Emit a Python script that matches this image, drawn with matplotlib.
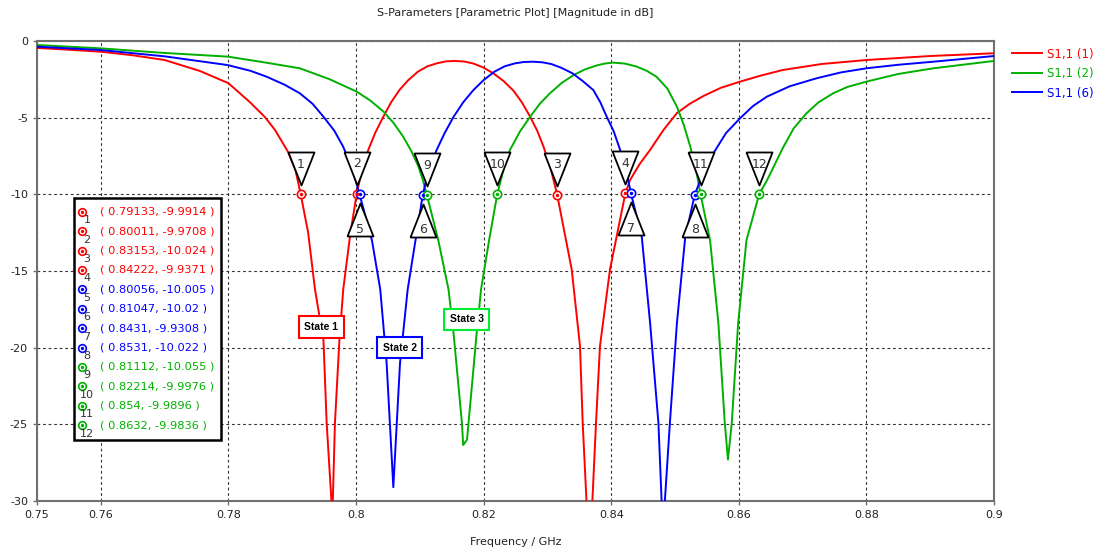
import matplotlib
matplotlib.use("Agg")
import matplotlib.pyplot as plt
from matplotlib.path import Path
from matplotlib.patches import Rectangle

# S1,1 (1) -> State 1
red_f = [0.75, 0.755, 0.76, 0.765, 0.77, 0.7755, 0.78, 0.7834, 0.7857, 0.7873,
         0.7893, 0.7905, 0.79133, 0.7925, 0.79357, 0.7949, 0.7954, 0.7963, 0.7967, 0.7974,
         0.798, 0.7991, 0.80011, 0.801, 0.80193, 0.803, 0.80428, 0.8055, 0.8068, 0.8082,
         0.8097, 0.8112, 0.8127, 0.8141, 0.8155, 0.817, 0.8184, 0.8199, 0.8215, 0.8231,
         0.8247, 0.826, 0.8273, 0.8284, 0.8294, 0.8305, 0.83153, 0.83381, 0.83511, 0.83553,
         0.8366, 0.83762, 0.83824, 0.83981, 0.84222, 0.84295, 0.8445, 0.8461, 0.8482, 0.8503,
         0.8523, 0.8544, 0.8572, 0.8602, 0.8635, 0.8669, 0.873, 0.88, 0.89, 0.9]
red_db = [-0.45, -0.57, -0.7, -0.93, -1.24, -1.95, -2.75, -4.0, -4.95, -5.8,
          -7.2, -8.4, -9.9914, -12.5, -16.2, -19.5, -24.9, -31.0, -24.9, -19.5,
          -16.2, -12.6, -9.9708, -8.3, -7.1, -6.0, -4.94, -4.0, -3.2, -2.55,
          -2.0, -1.65, -1.45, -1.33, -1.3, -1.34, -1.47, -1.72, -2.1, -2.6,
          -3.25, -4.0, -4.94, -5.85, -6.9, -8.3, -10.024, -14.9, -19.9, -24.9,
          -34.0, -24.9, -19.9, -14.9, -9.9371, -9.07, -8.0, -7.1, -5.8, -4.7,
          -4.1, -3.6, -3.05, -2.65, -2.25, -1.89, -1.5, -1.24, -0.98, -0.8]

# S1,1 (6) -> State 2
blue_f = [0.75, 0.76, 0.77, 0.7799, 0.7835, 0.786, 0.7888, 0.7912, 0.7932, 0.7949,
          0.7966, 0.798, 0.7994, 0.80056, 0.8025, 0.8038, 0.8048, 0.80585, 0.8069, 0.8081,
          0.8094, 0.81047, 0.8114, 0.81265, 0.8139, 0.8153, 0.8168, 0.8184, 0.82, 0.8217,
          0.8233, 0.8249, 0.8263, 0.8278, 0.8292, 0.8306, 0.8322, 0.8339, 0.8355, 0.8372,
          0.8383, 0.8393, 0.8404, 0.8414, 0.8423, 0.8431, 0.8448, 0.8461, 0.8474, 0.8481,
          0.8492, 0.8503, 0.8516, 0.8531, 0.8545, 0.8562, 0.858, 0.8602, 0.8622, 0.8644,
          0.868, 0.8722, 0.876, 0.88, 0.885, 0.8905, 0.9]
blue_db = [-0.37, -0.59, -1.0, -1.57, -1.95, -2.33, -2.85, -3.41, -4.1, -4.94,
           -5.85, -6.9, -8.3, -10.005, -13.0, -16.2, -21.0, -29.1, -21.0, -16.2,
           -12.8, -10.02, -8.4, -7.1, -6.0, -4.94, -4.0, -3.2, -2.55, -2.0,
           -1.65, -1.46, -1.37, -1.35, -1.39, -1.5, -1.75, -2.1, -2.6, -3.2,
           -4.0, -4.94, -5.9, -7.1, -8.4, -9.9308, -12.8, -18.4, -24.9, -32.0,
           -24.9, -18.4, -12.8, -10.022, -8.5, -7.2, -6.0, -5.04, -4.25, -3.63,
           -2.95, -2.43, -2.05, -1.78, -1.55, -1.35, -0.98]

# S1,1 (2) -> State 3
green_f = [0.75, 0.76, 0.77, 0.7799, 0.785, 0.7912, 0.7959, 0.8001, 0.8023, 0.8043,
           0.8059, 0.8074, 0.8087, 0.8098, 0.8105, 0.81112, 0.8129, 0.8145, 0.8153, 0.8166,
           0.8168, 0.8174, 0.8181, 0.8189, 0.8196, 0.8209, 0.82214, 0.8231, 0.82414, 0.8257,
           0.8273, 0.8288, 0.8304, 0.8322, 0.8341, 0.8359, 0.8377, 0.839, 0.8403, 0.8421,
           0.844, 0.8456, 0.8471, 0.8488, 0.8503, 0.8514, 0.8524, 0.8533, 0.854, 0.8555,
           0.8568, 0.8578, 0.8583, 0.8589, 0.8599, 0.8612, 0.8632, 0.8644, 0.867, 0.8686,
           0.8706, 0.8725, 0.8748, 0.877, 0.88, 0.885, 0.8905, 0.9]
green_db = [-0.26, -0.48, -0.78, -1.02, -1.35, -1.78, -2.5, -3.3, -3.9, -4.6,
            -5.35, -6.24, -7.2, -8.2, -9.1, -10.055, -13.0, -16.2, -19.1, -24.9,
            -26.35, -26.0, -22.8, -19.1, -16.2, -12.9, -9.9976, -8.4, -7.1, -5.9,
            -4.94, -4.1, -3.41, -2.75, -2.22, -1.85, -1.6, -1.47, -1.41, -1.47,
            -1.67, -1.95, -2.33, -3.1, -4.28, -5.5, -6.9, -8.4, -9.9896, -13.0,
            -18.4, -24.9, -27.3, -24.9, -18.4, -13.0, -9.9836, -9.1, -6.9, -5.7,
            -4.72, -4.0, -3.41, -3.0, -2.65, -2.15, -1.78, -1.3]

# markers at the -10 dB crossings
mk_num = [1, 2, 3, 4, 5, 6, 7, 8, 9, 10, 11, 12]
mk_series = ["red", "red", "red", "red", "blue", "blue", "blue", "blue",
             "green", "green", "green", "green"]
mk_f = [0.79133, 0.80011, 0.83153, 0.84222, 0.80056, 0.81047, 0.8431, 0.8531,
        0.81112, 0.82214, 0.854, 0.8632]
mk_db = [-9.9914, -9.9708, -10.024, -9.9371, -10.005, -10.02, -9.9308, -10.022,
         -10.055, -9.9976, -9.9896, -9.9836]

state_labels = ["State 1", "State 2", "State 3"]
state_f = [0.79459, 0.80682, 0.81735]
state_db = [-18.66, -20.0, -18.15]

x_ticks = [0.75, 0.76, 0.78, 0.8, 0.82, 0.84, 0.86, 0.88, 0.9]
x_ticklabels = ["0.75", "0.76", "0.78", "0.8", "0.82", "0.84", "0.86", "0.88", "0.9"]
y_ticks = [0, -5, -10, -15, -20, -25, -30]

colors = {"red": "#ff0000", "blue": "#0000ff", "green": "#00b000"}
state_edge = ["#ff0000", "#0000ff", "#00ee30"]

W, H = 1105, 554
L, R, T, B = 37, 994, 41, 501
plt.rcParams["font.family"] = ["DejaVu Sans"]
plt.rcParams["axes.unicode_minus"] = False

fig = plt.figure(figsize=(W / 100, H / 100), dpi=100)
ax = fig.add_axes([L / W, 1 - B / H, (R - L) / W, (B - T) / H])


def ax_frac(px, py):
    # pixel position in the picture -> axes fraction
    return (px - L) / (R - L), (B - py) / (B - T)


ax.plot(red_f, red_db, color=colors["red"], lw=1.4, label="S1,1 (1)", zorder=3)
ax.plot(green_f, green_db, color=colors["green"], lw=1.4, label="S1,1 (2)", zorder=3)
ax.plot(blue_f, blue_db, color=colors["blue"], lw=1.4, label="S1,1 (6)", zorder=3)

ax.set_xlim(0.75, 0.9)
ax.set_ylim(-30, 0)
ax.set_xticks(x_ticks)
ax.set_xticklabels(x_ticklabels)
ax.set_yticks(y_ticks)
ax.tick_params(direction="out", length=3, width=1, color="#707070",
               labelsize=8, labelcolor="#222222")
ax.grid(True, color="#333333", lw=0.8, ls=(0, (2.5, 2.5)))
for s in ax.spines.values():
    s.set_color("#707070")
    s.set_linewidth(1.5)

ax.set_title("S-Parameters [Parametric Plot] [Magnitude in dB]", fontsize=8,
             color="#222222", pad=18)
ax.set_xlabel("Frequency / GHz", fontsize=8, color="#222222", labelpad=12)

# triangle marker tags (tip points at the marker)
k = 42
down_tri = Path([(-13 / k, 1), (13 / k, 1), (0, 9 / k), (-13 / k, 1)])
up_tri = Path([(-13 / k, -1), (13 / k, -1), (0, -9 / k), (-13 / k, -1)])
below = {5, 6, 7, 8}
for n, s, f, db in zip(mk_num, mk_series, mk_f, mk_db):
    tri = up_tri if n in below else down_tri
    ax.plot([f], [db], marker=tri, ms=60.5, mfc="white", mec="black", mew=1.3,
            ls="none", zorder=5)
    dy = -35 if n in below else 30
    ax.annotate(str(n), (f, db), xytext=(0, dy * 0.72), textcoords="offset points",
                ha="center", va="center", fontsize=9, color="#333333", zorder=6)
    ax.plot([f], [db], marker="o", ms=6, mfc="white", mec=colors[s], mew=1.2,
            ls="none", zorder=6)
    ax.plot([f], [db], marker="o", ms=1.5, color=colors[s], ls="none", zorder=7)

# marker value box
x0, y0 = ax_frac(74, 440)
x1, y1 = ax_frac(221, 198)
ax.add_patch(Rectangle((x0, y0), x1 - x0, y1 - y0, transform=ax.transAxes,
                       fc="white", ec="black", lw=1.8, zorder=8, clip_on=False))
for i, (n, s, f, db) in enumerate(zip(mk_num, mk_series, mk_f, mk_db)):
    py = 211.7 + i * 19.4
    cx, cy = ax_frac(81.7, py)
    ax.plot([cx], [cy], marker="o", ms=5.5, mfc="white", mec=colors[s], mew=1.2,
            transform=ax.transAxes, zorder=9, clip_on=False)
    ax.plot([cx], [cy], marker="o", ms=1.4, color=colors[s],
            transform=ax.transAxes, zorder=10, clip_on=False)
    nx, ny = ax_frac(87, py + 8.5)
    ax.text(nx, ny, str(n), transform=ax.transAxes, ha="center", va="center",
            fontsize=8, color="#333333", zorder=10)
    tx, ty = ax_frac(100, py)
    ax.text(tx, ty, f"( {f}, {db} )", transform=ax.transAxes, ha="left",
            va="center", fontsize=8.2, color=colors[s], zorder=10)

# state labels
for lab, f, db, ec in zip(state_labels, state_f, state_db, state_edge):
    ax.text(f, db, lab, ha="center", va="center", fontsize=7.5, fontweight="bold",
            family="Liberation Sans", zorder=8,
            bbox=dict(boxstyle="square,pad=0.55", fc="white", ec=ec, lw=1.5))

leg = fig.legend(loc="upper left", bbox_to_anchor=(1001 / W, 1 - 37 / H),
                 frameon=False, fontsize=8.5, handlelength=2.6, labelspacing=0.55,
                 handletextpad=0.4, labelcolor="linecolor")

fig.savefig("out.png", dpi=100)
